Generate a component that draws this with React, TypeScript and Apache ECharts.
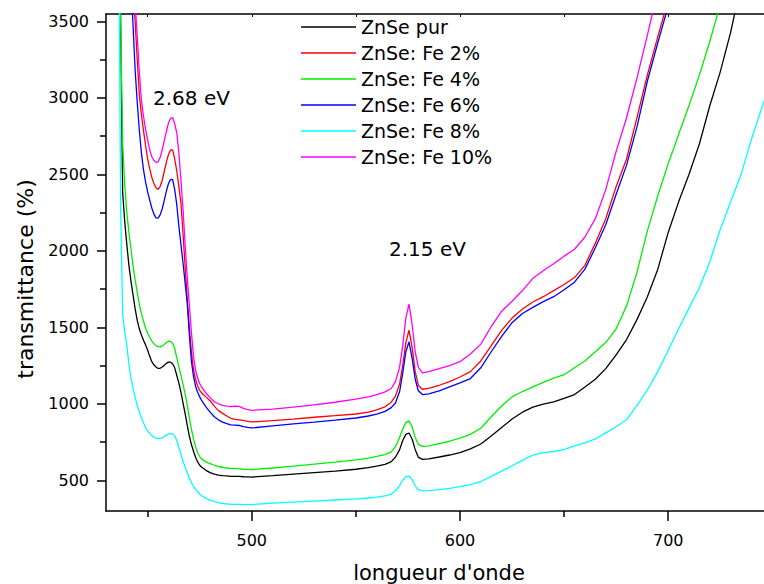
import React, { useEffect, useRef } from "react";
import * as echarts from "echarts";

const wavelengths = [
  436, 437, 438, 439, 440, 441, 442, 443, 444, 445,
  446, 447, 448, 449, 450, 451, 452, 453, 454, 455,
  456, 457, 458, 459, 460, 461, 462, 463, 464, 465,
  466, 467, 468, 469, 470, 471, 472, 473, 474, 475,
  476, 478, 480, 482, 484, 486, 488, 490, 492, 494,
  496, 498, 500, 510, 520, 530, 540, 550, 556, 560,
  564, 567, 569, 571, 572.5, 574, 575.5, 577, 578.5, 580,
  582, 585, 590, 595, 600, 605, 610, 615, 620, 625,
  630, 635, 640, 645, 650, 655, 660, 665, 670, 675,
  680, 685, 690, 695, 700, 705, 710, 715, 720, 725,
  730, 735, 740, 746,
];

const znsePur = [
  4500, 3500, 2380, 2190, 2040, 1905, 1800, 1710, 1620, 1545,
  1490, 1450, 1415, 1385, 1350, 1310, 1275, 1255, 1240, 1231,
  1232, 1240, 1252, 1264, 1272, 1272, 1262, 1235, 1185, 1135,
  1075, 1005, 935, 860, 790, 735, 690, 650, 620, 598,
  585, 565, 550, 540, 534, 530, 528, 526, 526, 525,
  523, 522, 521, 530, 540, 550, 560, 572, 582, 592,
  604, 622, 650, 700, 760, 800, 809, 770, 700, 650,
  637, 640, 652, 665, 680, 705, 737, 790, 845, 900,
  945, 978, 997, 1013, 1035, 1060, 1110, 1160, 1230, 1320,
  1420, 1550, 1700, 1880, 2120, 2320, 2500, 2700, 2950, 3170,
  3430, 3740, null, null,
];

const fe2 = [
  null, null, null, null, null, 4250, 3950, 3700, 3500, 3250,
  3020, 2890, 2785, 2690, 2600, 2535, 2480, 2440, 2412, 2401,
  2420, 2460, 2520, 2580, 2630, 2658, 2660, 2600, 2520, 2420,
  2310, 2110, 1895, 1690, 1495, 1340, 1225, 1160, 1115, 1088,
  1070, 1045, 1020, 985, 955, 937, 920, 905, 898, 895,
  891, 885, 881, 890, 900, 912, 922, 933, 945, 960,
  980, 1010, 1050, 1130, 1250, 1400, 1481, 1370, 1210, 1120,
  1095, 1100, 1121, 1145, 1175, 1210, 1280, 1380, 1480, 1560,
  1620, 1665, 1700, 1740, 1780, 1825, 1905, 2050, 2210, 2420,
  2600, 2870, 3150, 3400, 3640, 3900, null, null, null, null,
  null, null, null, null,
];

const fe4 = [
  4400, 3550, 2700, 2430, 2250, 2120, 2010, 1900, 1810, 1730,
  1650, 1590, 1540, 1495, 1462, 1435, 1410, 1393, 1380, 1373,
  1372, 1378, 1388, 1400, 1409, 1408, 1395, 1360, 1300, 1241,
  1185, 1125, 1065, 995, 910, 835, 770, 720, 680, 655,
  638, 620, 608, 598, 590, 585, 580, 577, 577, 575,
  572, 571, 570, 580, 592, 605, 618, 633, 645, 656,
  668, 685, 720, 780, 835, 878, 888, 850, 780, 735,
  722, 725, 740, 755, 775, 800, 840, 915, 985, 1045,
  1080, 1110, 1140, 1168, 1190, 1235, 1280, 1340, 1400, 1490,
  1640, 1860, 2130, 2360, 2570, 2760, 2950, 3150, 3370, 3610,
  3900, null, null, null,
];

const fe6 = [
  null, null, null, null, null, 4050, 3750, 3470, 3180, 2970,
  2790, 2640, 2530, 2450, 2385, 2331, 2280, 2240, 2215, 2213,
  2235, 2275, 2330, 2390, 2440, 2465, 2467, 2400, 2300, 2160,
  2040, 1920, 1790, 1660, 1460, 1280, 1180, 1115, 1075, 1045,
  1020, 980, 945, 915, 895, 880, 870, 862, 860, 858,
  850, 845, 842, 855, 868, 880, 893, 907, 920, 933,
  950, 975, 1005, 1080, 1200, 1340, 1405, 1300, 1160, 1085,
  1060, 1065, 1084, 1110, 1136, 1165, 1235, 1340, 1440, 1530,
  1590, 1630, 1668, 1700, 1745, 1795, 1880, 2020, 2170, 2370,
  2560, 2810, 3110, 3360, 3600, 3900, null, null, null, null,
  null, null, null, null,
];

const fe8 = [
  4500, 2300, 1580, 1470, 1380, 1260, 1170, 1100, 1040, 990,
  945, 910, 875, 845, 822, 805, 792, 782, 775, 772,
  773, 778, 786, 795, 802, 805, 803, 790, 760, 715,
  670, 625, 585, 550, 515, 485, 460, 440, 425, 410,
  398, 382, 370, 360, 353, 348, 345, 343, 342, 342,
  341, 341, 341, 350, 357, 364, 371, 378, 384, 390,
  398, 410, 430, 465, 500, 522, 528, 505, 462, 438,
  430, 432, 439, 447, 458, 472, 492, 525, 560, 595,
  630, 665, 680, 688, 700, 725, 745, 770, 810, 850,
  895, 990, 1090, 1210, 1350, 1490, 1625, 1760, 1930, 2140,
  2320, 2500, 2730, 2980,
];

const fe10 = [
  null, null, null, null, null, null, 4200, 3900, 3620, 3400,
  3170, 2985, 2880, 2795, 2725, 2660, 2615, 2590, 2578, 2580,
  2610, 2660, 2720, 2780, 2835, 2866, 2870, 2830, 2770, 2640,
  2460, 2270, 2040, 1830, 1650, 1470, 1310, 1220, 1170, 1132,
  1108, 1070, 1040, 1013, 1000, 990, 985, 982, 984, 983,
  970, 962, 957, 965, 978, 993, 1010, 1030, 1045, 1060,
  1078, 1100, 1145, 1240, 1380, 1560, 1651, 1520, 1340, 1240,
  1202, 1210, 1230, 1250, 1275, 1325, 1390, 1505, 1605, 1670,
  1740, 1820, 1870, 1915, 1965, 2010, 2090, 2210, 2400, 2650,
  2870, 3130, 3410, 3700, null, null, null, null, null, null,
  null, null, null, null,
];

const seriesNames = [
  "ZnSe pur",
  "ZnSe: Fe 2%",
  "ZnSe: Fe 4%",
  "ZnSe: Fe 6%",
  "ZnSe: Fe 8%",
  "ZnSe: Fe 10%",
];
const seriesColors = ["#000000", "#ff0000", "#00ee00", "#0000ff", "#00ffff", "#ff00ff"];

const xMajorTicks = [500, 600, 700];
const xMinorTicks = [450, 550, 650];
const xTopTicks = [450, 500, 550, 600, 650, 700];
const yMajorTicks = [500, 1000, 1500, 2000, 2500, 3000, 3500];
const yMinorTicks = [750, 1250, 1750, 2250, 2750, 3250];

const xTitle = "longueur d'onde";
const yTitle = "transmittance (%)";
const peakLabels = ["2.68 eV", "2.15 eV"];

export default function App() {
  const ref = useRef<HTMLDivElement>(null);

  useEffect(() => {
    if (!ref.current) return;
    const chart = echarts.init(ref.current, null, { renderer: "svg" });
    const font = "DejaVu Sans";
    const values = [znsePur, fe2, fe4, fe6, fe8, fe10];
    const X_MIN = 430;
    const X_MAX = 746;
    const Y_MIN = 299;
    const Y_MAX = 3548;
    const axisLineStyle = { color: "#000", width: 1.5 };
    const plain = (v: number) => String(v);

    const series = values.map((vals, k) => ({
      type: "line",
      name: seriesNames[k],
      data: wavelengths
        .map((w, i) => [w, vals[i]])
        .filter((p) => p[1] !== null),
      symbol: "none",
      showSymbol: false,
      lineStyle: { color: seriesColors[k], width: 1.3 },
      itemStyle: { color: seriesColors[k] },
      clip: true,
      silent: true,
    }));

    chart.setOption({
      animation: false,
      backgroundColor: "#ffffff",
      grid: { left: 106, right: 0, top: 14, bottom: 73, containLabel: false },
      legend: {
        orient: "vertical",
        left: 301,
        top: 17,
        padding: 0,
        icon: "rect",
        itemWidth: 55,
        itemHeight: 1.4,
        itemGap: 6,
        selectedMode: false,
        data: seriesNames,
        textStyle: { fontSize: 19, fontFamily: font, color: "#000", lineHeight: 20 },
      },
      xAxis: [
        {
          type: "value",
          min: X_MIN,
          max: X_MAX,
          position: "bottom",
          axisLine: { show: true, onZero: false, lineStyle: axisLineStyle },
          axisTick: { show: true, customValues: xMajorTicks, length: 10, lineStyle: axisLineStyle },
          axisLabel: {
            customValues: xMajorTicks,
            formatter: plain,
            margin: 21,
            fontSize: 16,
            fontFamily: font,
            color: "#000",
          },
          splitLine: { show: false },
        },
        {
          type: "value",
          min: X_MIN,
          max: X_MAX,
          position: "bottom",
          axisLine: { show: false, onZero: false },
          axisTick: { show: true, customValues: xMinorTicks, length: 6, lineStyle: axisLineStyle },
          axisLabel: { show: false },
          splitLine: { show: false },
        },
        {
          type: "value",
          min: X_MIN,
          max: X_MAX,
          position: "top",
          axisLine: { show: true, onZero: false, lineStyle: axisLineStyle },
          axisTick: { show: true, inside: true, customValues: xTopTicks, length: 3, lineStyle: { color: "#000", width: 1 } },
          axisLabel: { show: false },
          splitLine: { show: false },
        },
      ],
      yAxis: [
        {
          type: "value",
          min: Y_MIN,
          max: Y_MAX,
          position: "left",
          axisLine: { show: true, onZero: false, lineStyle: axisLineStyle },
          axisTick: { show: true, customValues: yMajorTicks, length: 9, lineStyle: axisLineStyle },
          axisLabel: {
            customValues: yMajorTicks,
            formatter: plain,
            margin: 17,
            fontSize: 16,
            fontFamily: font,
            color: "#000",
          },
          splitLine: { show: false },
        },
        {
          type: "value",
          min: Y_MIN,
          max: Y_MAX,
          position: "left",
          axisLine: { show: false, onZero: false },
          axisTick: { show: true, customValues: yMinorTicks, length: 6, lineStyle: axisLineStyle },
          axisLabel: { show: false },
          splitLine: { show: false },
        },
      ],
      graphic: [
        {
          type: "text",
          x: 25,
          y: 279,
          rotation: Math.PI / 2,
          style: {
            text: yTitle,
            fontSize: 22,
            fontFamily: font,
            fill: "#000",
            align: "center",
            verticalAlign: "middle",
          },
        },
        {
          type: "text",
          x: 439,
          y: 573,
          style: {
            text: xTitle,
            fontSize: 21,
            fontFamily: font,
            fill: "#000",
            align: "center",
            verticalAlign: "middle",
          },
        },
        {
          type: "text",
          x: 153,
          y: 98,
          style: {
            text: peakLabels[0],
            fontSize: 20,
            fontFamily: font,
            fill: "#000",
            align: "left",
            verticalAlign: "middle",
          },
        },
        {
          type: "text",
          x: 389,
          y: 249,
          style: {
            text: peakLabels[1],
            fontSize: 20,
            fontFamily: font,
            fill: "#000",
            align: "left",
            verticalAlign: "middle",
          },
        },
      ],
      series,
    });

    return () => {
      chart.dispose();
    };
  }, []);

  return (
    <div
      ref={ref}
      style={{ position: "fixed", left: 0, top: 0, width: 764, height: 584, background: "#fff" }}
    />
  );
}
